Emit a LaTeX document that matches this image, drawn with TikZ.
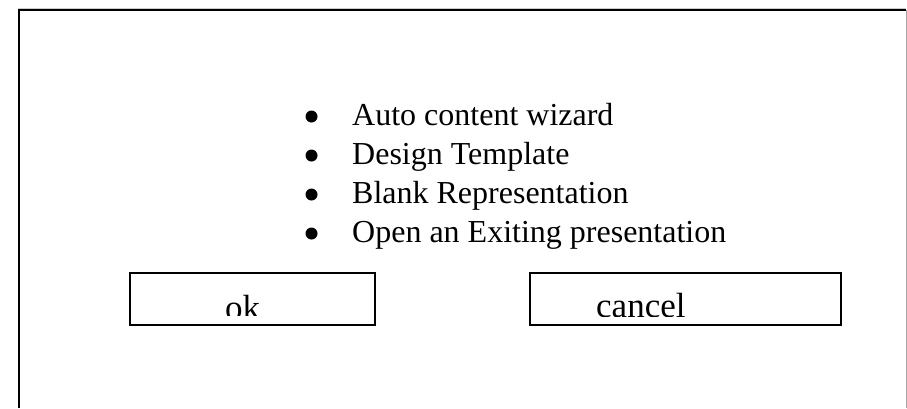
\documentclass[tikz,border=0pt]{standalone}
\usepackage{fontspec}
\setmainfont{Liberation Serif}
\begin{document}
\begin{tikzpicture}[x=1pt,y=-1pt,
  itemtext/.style={anchor=base west, inner sep=0pt, font=\fontsize{32}{32}\selectfont},
  dot/.style={circle, fill=black, inner sep=0pt, minimum size=12pt},
  btntext/.style={anchor=base west, inner sep=0pt, font=\fontsize{35}{35}\selectfont},
  btnbox/.style={draw=black, line width=1.8pt, fill=none}]
\useasboundingbox (0,0) rectangle (907,408);
% outer frame (open at the bottom)
\draw[gray!40, line width=0.8pt] (18,8.5) -- (906,8.5);
\draw[line width=2pt] (19,408) -- (19,10) -- (906,10);
\draw[gray!70, line width=1pt] (906,10) -- (906,408);
% list
\node[dot] (b1) at (311.5,116.5) {};
\node[dot] (b2) at (311.5,155.5) {};
\node[dot] (b3) at (311.5,194.5) {};
\node[dot] (b4) at (311.5,233.5) {};
\node[itemtext] (t1) at (352,125) {Auto content wizard};
\node[itemtext] (t2) at (352,164) {Design Template};
\node[itemtext] (t3) at (352,203) {Blank Representation};
\node[itemtext] (t4) at (352,242) {Open an Exiting presentation};
% buttons
\draw[btnbox] (130,273) rectangle (375,325);
\draw[btnbox] (530,273) rectangle (841,325);
\begin{scope}
  \clip (131,275) rectangle (374,315.5);
  \node[btntext] (ok) at (225,319.5) {ok};
\end{scope}
\begin{scope}
  \clip (531,275) rectangle (840,316);
  \node[btntext] (cancel) at (596,317.5) {cancel};
\end{scope}
\end{tikzpicture}
\end{document}
